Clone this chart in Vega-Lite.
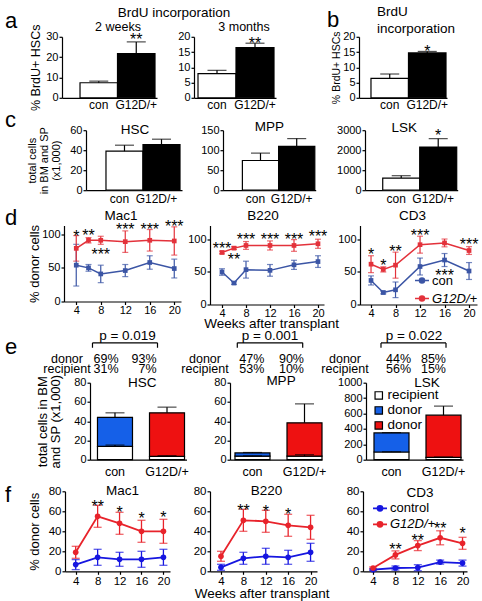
{
"$schema": "https://vega.github.io/schema/vega-lite/v6.json",
"background": "white",
"padding": {"left": 5, "top": 5, "right": 0, "bottom": 0},
"config": {
  "font": "Liberation Sans",
  "view": {"stroke": null},
  "axis": {"domainColor": "black", "domainWidth": 1.2, "tickColor": "black", "tickWidth": 1.2, "tickSize": 3, "labelColor": "black", "labelOpacity": 1, "labelFontSize": 11, "labelPadding": 1, "labelOverlap": false, "labelBound": false, "labelFlush": false, "labelSeparation": 0, "titleColor": "black", "titleFontWeight": "normal", "grid": false, "minExtent": 0},
  "legend": {"labelColor": "black", "padding": 0},
  "text": {"color": "black"}
},
"columns": 1, "spacing": 6.3,
"resolve": {"scale": {"color": "independent", "fill": "independent"}, "legend": {"color": "independent", "fill": "independent"}},
"concat": [
 {"columns": 1, "spacing": -2.3,
  "resolve": {"scale": {"color": "independent", "fill": "independent"}, "legend": {"color": "independent", "fill": "independent"}},
  "concat": [
  {"columns": 1, "spacing": 1.5,
   "resolve": {"scale": {"color": "independent", "fill": "independent"}, "legend": {"color": "independent", "fill": "independent"}},
   "concat": [
   {"columns": 1, "spacing": -2.8,
    "resolve": {"scale": {"color": "independent", "fill": "independent"}, "legend": {"color": "independent", "fill": "independent"}},
    "concat": [
    {"columns": 1, "spacing": -14.2,
     "resolve": {"scale": {"color": "independent", "fill": "independent"}, "legend": {"color": "independent", "fill": "independent"}},
     "concat": [
      {"width": 1, "height": 1,
       "data": {"values": [{"t": "BrdU incorporation"}]},
       "mark": {"type": "text", "fontSize": 13.5, "dx": 168.5},
       "encoding": {"text": {"field": "t"}}},
      {"spacing": 0,
       "resolve": {"scale": {"color": "independent", "fill": "independent"}, "legend": {"color": "independent", "fill": "independent"}},
       "hconcat": [
        {"width": 24, "height": 1,
         "data": {"values": [{"t": "a"}]},
         "mark": {"type": "text", "fontSize": 22, "align": "left", "baseline": "alphabetic", "dx": -12, "dy": -9.8},
         "encoding": {"text": {"field": "t"}}},
        {"width": 95, "height": 61,
         "data": {"values": [{"g": "con", "v": 7.4, "hi": 8.2}, {"g": "G12D/+", "v": 21.7, "hi": 27.5}]},
         "layer": [
          {"mark": {"type": "bar", "stroke": "black", "strokeWidth": 1.2},
           "encoding": {
            "x": {"field": "g", "type": "nominal", "sort": null, "scale": {"domain": ["con", "G12D/+"], "paddingInner": 0, "paddingOuter": 0.267, "align": 0.9}, "axis": {"title": null, "ticks": false, "labelAngle": 0, "labelFontSize": 12, "labelPadding": 1.3, "labelOverlap": false, "encode": {"labels": {"update": {"fontStyle": {"signal": "datum.value === 'G12D/+' ? 'italic' : 'normal'"}}}}}},
            "y": {"field": "v", "type": "quantitative", "scale": {"domain": [0, 30], "nice": false}, "axis": {"values": [0, 10, 20, 30], "tickCount": 20, "labelOverlap": false, "minExtent": 17, "title": "% BrdU+ HSCs", "titleFontSize": 12.5, "titlePadding": 3}},
            "fill": {"field": "g", "type": "nominal", "scale": {"domain": ["con", "G12D/+"], "range": ["white", "black"]}, "legend": null}}},
          {"mark": {"type": "rule", "color": "black", "strokeWidth": 1.2},
           "encoding": {"x": {"field": "g", "type": "nominal"}, "y": {"field": "v", "type": "quantitative"}, "y2": {"field": "hi"}}},
          {"mark": {"type": "tick", "color": "black", "thickness": 1.2, "size": 19},
           "encoding": {"x": {"field": "g", "type": "nominal"}, "y": {"field": "hi", "type": "quantitative"}}},
          {"data": {"values": [{"g": "G12D/+", "y": 30.5, "s": "**"}]},
           "mark": {"type": "text", "fontSize": 16, "dy": 4.5},
           "encoding": {"x": {"field": "g", "type": "nominal"}, "y": {"field": "y", "type": "quantitative"}, "text": {"field": "s"}}},
          {"data": {"values": [{"t": "2 weeks"}]},
           "mark": {"type": "text", "fontSize": 12.5, "dx": 8.5},
           "encoding": {"y": {"datum": 34.6}, "text": {"field": "t"}}}
         ]},
        {"width": 82, "height": 61,
         "data": {"values": [{"g": "con", "v": 7.9, "hi": 9.0}, {"g": "G12D/+", "v": 16.5, "hi": 17.9}]},
         "layer": [
          {"mark": {"type": "bar", "stroke": "black", "strokeWidth": 1.2},
           "encoding": {
            "x": {"field": "g", "type": "nominal", "sort": null, "scale": {"domain": ["con", "G12D/+"], "paddingInner": 0, "paddingOuter": 0.079, "align": 0.667}, "axis": {"title": null, "ticks": false, "labelAngle": 0, "labelFontSize": 12, "labelPadding": 1.3, "labelOverlap": false, "encode": {"labels": {"update": {"fontStyle": {"signal": "datum.value === 'G12D/+' ? 'italic' : 'normal'"}}}}}},
            "y": {"field": "v", "type": "quantitative", "scale": {"domain": [0, 20], "nice": false}, "axis": {"values": [0, 5, 10, 15, 20], "tickCount": 20, "labelOverlap": false, "title": null, "minExtent": 37}},
            "fill": {"field": "g", "type": "nominal", "scale": {"domain": ["con", "G12D/+"], "range": ["white", "black"]}, "legend": null}}},
          {"mark": {"type": "rule", "color": "black", "strokeWidth": 1.2},
           "encoding": {"x": {"field": "g", "type": "nominal"}, "y": {"field": "v", "type": "quantitative"}, "y2": {"field": "hi"}}},
          {"mark": {"type": "tick", "color": "black", "thickness": 1.2, "size": 19},
           "encoding": {"x": {"field": "g", "type": "nominal"}, "y": {"field": "hi", "type": "quantitative"}}},
          {"data": {"values": [{"g": "G12D/+", "y": 19.2, "s": "**"}]},
           "mark": {"type": "text", "fontSize": 16, "dy": 4.5},
           "encoding": {"x": {"field": "g", "type": "nominal"}, "y": {"field": "y", "type": "quantitative"}, "text": {"field": "s"}}},
          {"data": {"values": [{"t": "3 months"}]},
           "mark": {"type": "text", "fontSize": 12.5, "dx": 9},
           "encoding": {"y": {"datum": 23.06}, "text": {"field": "t"}}}
         ]},
        {"width": 51, "height": 1,
         "data": {"values": []},
         "mark": {"type": "point"},
         "encoding": {}},
        {"width": 88, "height": 61,
         "data": {"values": [{"g": "con", "v": 6.4, "hi": 7.8}, {"g": "G12D/+", "v": 14.7, "hi": 15.2}]},
         "layer": [
          {"mark": {"type": "bar", "stroke": "black", "strokeWidth": 1.2},
           "encoding": {
            "x": {"field": "g", "type": "nominal", "sort": null, "scale": {"domain": ["con", "G12D/+"], "paddingInner": 0, "paddingOuter": 0.173, "align": 0.923}, "axis": {"title": null, "ticks": false, "labelAngle": 0, "labelFontSize": 12, "labelPadding": 1.3, "labelOverlap": false, "encode": {"labels": {"update": {"fontStyle": {"signal": "datum.value === 'G12D/+' ? 'italic' : 'normal'"}}}}}},
            "y": {"field": "v", "type": "quantitative", "scale": {"domain": [0, 20], "nice": false}, "axis": {"values": [0, 5, 10, 15, 20], "tickCount": 20, "labelOverlap": false, "minExtent": 17, "title": "% BrdU+ HSCs", "titleFontSize": 10.5, "titlePadding": 1}},
            "fill": {"field": "g", "type": "nominal", "scale": {"domain": ["con", "G12D/+"], "range": ["white", "black"]}, "legend": null}}},
          {"mark": {"type": "rule", "color": "black", "strokeWidth": 1.2},
           "encoding": {"x": {"field": "g", "type": "nominal"}, "y": {"field": "v", "type": "quantitative"}, "y2": {"field": "hi"}}},
          {"mark": {"type": "tick", "color": "black", "thickness": 1.2, "size": 19},
           "encoding": {"x": {"field": "g", "type": "nominal"}, "y": {"field": "hi", "type": "quantitative"}}},
          {"data": {"values": [{"g": "G12D/+", "y": 16.5, "s": "*"}]},
           "mark": {"type": "text", "fontSize": 16, "dy": 4.5},
           "encoding": {"x": {"field": "g", "type": "nominal"}, "y": {"field": "y", "type": "quantitative"}, "text": {"field": "s"}}},
          {"data": {"values": [{"t": "BrdU", "y": 28.0}, {"t": "incorporation", "y": 22.4}]},
           "mark": {"type": "text", "fontSize": 13.5, "align": "left", "dx": -26},
           "encoding": {"y": {"field": "y", "type": "quantitative"}, "text": {"field": "t"}}},
          {"data": {"values": [{"t": "b"}]},
           "mark": {"type": "text", "fontSize": 22, "align": "left", "baseline": "alphabetic", "dx": -76},
           "encoding": {"y": {"datum": 23.06}, "text": {"field": "t"}}}
         ]}
       ]}
     ]},
     {"spacing": 0,
      "resolve": {"scale": {"color": "independent", "fill": "independent"}, "legend": {"color": "independent", "fill": "independent"}},
      "hconcat": [
       {"width": 21, "height": 1,
        "data": {"values": [{"t": "c"}]},
        "mark": {"type": "text", "fontSize": 22, "align": "left", "baseline": "alphabetic", "dx": -10.5, "dy": -4},
        "encoding": {"text": {"field": "t"}}},
       {"width": 96, "height": 60,
        "data": {"values": [{"g": "con", "v": 39, "hi": 45}, {"g": "G12D/+", "v": 45.7, "hi": 51}]},
        "layer": [
         {"mark": {"type": "bar", "stroke": "black", "strokeWidth": 1.2},
          "encoding": {
           "x": {"field": "g", "type": "nominal", "sort": null, "scale": {"domain": ["con", "G12D/+"], "paddingInner": 0, "paddingOuter": 0.297, "align": 0.909}, "axis": {"title": null, "ticks": false, "labelAngle": 0, "labelFontSize": 12, "labelPadding": 3, "labelOffset": -5, "labelOverlap": false, "encode": {"labels": {"update": {"fontStyle": {"signal": "datum.value === 'G12D/+' ? 'italic' : 'normal'"}}}}}},
           "y": {"field": "v", "type": "quantitative", "scale": {"domain": [0, 60], "nice": false}, "axis": {"values": [0, 20, 40, 60], "tickCount": 20, "labelOverlap": false, "minExtent": 17, "title": ["total cells", "in BM and SP", "(x1,000)"], "titleFontSize": 11, "titleLineHeight": 12, "titlePadding": 8}},
           "fill": {"field": "g", "type": "nominal", "scale": {"domain": ["con", "G12D/+"], "range": ["white", "black"]}, "legend": null}}},
         {"mark": {"type": "rule", "color": "black", "strokeWidth": 1.2},
          "encoding": {"x": {"field": "g", "type": "nominal"}, "y": {"field": "v", "type": "quantitative"}, "y2": {"field": "hi"}}},
         {"mark": {"type": "tick", "color": "black", "thickness": 1.2, "size": 19},
          "encoding": {"x": {"field": "g", "type": "nominal"}, "y": {"field": "hi", "type": "quantitative"}}},
         {"data": {"values": [{"t": "HSC"}]},
          "mark": {"type": "text", "fontSize": 13.5, "dx": 1},
          "encoding": {"y": {"datum": 60.5}, "text": {"field": "t"}}}
        ]},
       {"width": 92.7, "height": 60,
        "data": {"values": [{"g": "con", "v": 74.2, "hi": 92.7}, {"g": "G12D/+", "v": 109.6, "hi": 129}]},
        "layer": [
         {"mark": {"type": "bar", "stroke": "black", "strokeWidth": 1.2},
          "encoding": {
           "x": {"field": "g", "type": "nominal", "sort": null, "scale": {"domain": ["con", "G12D/+"], "paddingInner": 0, "paddingOuter": 0.28, "align": 0.956}, "axis": {"title": null, "ticks": false, "labelAngle": 0, "labelFontSize": 12, "labelPadding": 3, "labelOffset": -5, "labelOverlap": false, "encode": {"labels": {"update": {"fontStyle": {"signal": "datum.value === 'G12D/+' ? 'italic' : 'normal'"}}}}}},
           "y": {"field": "v", "type": "quantitative", "scale": {"domain": [0, 150], "nice": false}, "axis": {"values": [0, 50, 100, 150], "tickCount": 20, "labelOverlap": false, "title": null, "minExtent": 41}},
           "fill": {"field": "g", "type": "nominal", "scale": {"domain": ["con", "G12D/+"], "range": ["white", "black"]}, "legend": null}}},
         {"mark": {"type": "rule", "color": "black", "strokeWidth": 1.2},
          "encoding": {"x": {"field": "g", "type": "nominal"}, "y": {"field": "v", "type": "quantitative"}, "y2": {"field": "hi"}}},
         {"mark": {"type": "tick", "color": "black", "thickness": 1.2, "size": 19},
          "encoding": {"x": {"field": "g", "type": "nominal"}, "y": {"field": "hi", "type": "quantitative"}}},
         {"data": {"values": [{"t": "MPP"}]},
          "mark": {"type": "text", "fontSize": 13.5, "dx": 0},
          "encoding": {"y": {"datum": 158.8}, "text": {"field": "t"}}}
        ]},
       {"width": 92.7, "height": 60,
        "data": {"values": [{"g": "con", "v": 607, "hi": 725}, {"g": "G12D/+", "v": 2157, "hi": 2578}]},
        "layer": [
         {"mark": {"type": "bar", "stroke": "black", "strokeWidth": 1.2},
          "encoding": {
           "x": {"field": "g", "type": "nominal", "sort": null, "scale": {"domain": ["con", "G12D/+"], "paddingInner": 0, "paddingOuter": 0.253, "align": 0.947}, "axis": {"title": null, "ticks": false, "labelAngle": 0, "labelFontSize": 12, "labelPadding": 3, "labelOffset": -5, "labelOverlap": false, "encode": {"labels": {"update": {"fontStyle": {"signal": "datum.value === 'G12D/+' ? 'italic' : 'normal'"}}}}}},
           "y": {"field": "v", "type": "quantitative", "scale": {"domain": [0, 3000], "nice": false}, "axis": {"values": [0, 1000, 2000, 3000], "tickCount": 20, "format": "d", "labelOverlap": false, "title": null, "minExtent": 49}},
           "fill": {"field": "g", "type": "nominal", "scale": {"domain": ["con", "G12D/+"], "range": ["white", "black"]}, "legend": null}}},
         {"mark": {"type": "rule", "color": "black", "strokeWidth": 1.2},
          "encoding": {"x": {"field": "g", "type": "nominal"}, "y": {"field": "v", "type": "quantitative"}, "y2": {"field": "hi"}}},
         {"mark": {"type": "tick", "color": "black", "thickness": 1.2, "size": 19},
          "encoding": {"x": {"field": "g", "type": "nominal"}, "y": {"field": "hi", "type": "quantitative"}}},
         {"data": {"values": [{"g": "G12D/+", "y": 2924, "s": "*"}]},
          "mark": {"type": "text", "fontSize": 16, "dy": 4.5},
          "encoding": {"x": {"field": "g", "type": "nominal"}, "y": {"field": "y", "type": "quantitative"}, "text": {"field": "s"}}},
         {"data": {"values": [{"t": "LSK"}]},
          "mark": {"type": "text", "fontSize": 13.5, "dx": -7},
          "encoding": {"y": {"datum": 3091}, "text": {"field": "t"}}}
        ]}
      ]}
    ]},
   {"spacing": -2,
    "resolve": {"scale": {"color": "independent", "fill": "independent"}, "legend": {"color": "independent", "fill": "independent"}},
    "hconcat": [
     {"width": 25, "height": 1,
      "data": {"values": [{"t": "d"}]},
      "mark": {"type": "text", "fontSize": 22, "align": "left", "baseline": "alphabetic", "dx": -12.5, "dy": -1.5},
      "encoding": {"text": {"field": "t"}}},
     {"width": 117, "height": 76,
      "data": {"values": [
        {"w": 4, "grp": "con", "v": 54, "e": 31}, {"w": 6, "grp": "con", "v": 50, "e": 5}, {"w": 8, "grp": "con", "v": 41, "e": 13}, {"w": 12, "grp": "con", "v": 46, "e": 9}, {"w": 16, "grp": "con", "v": 58, "e": 10}, {"w": 20, "grp": "con", "v": 49, "e": 14},
        {"w": 4, "grp": "G12D/+", "v": 79, "e": 19}, {"w": 6, "grp": "G12D/+", "v": 91, "e": 4}, {"w": 8, "grp": "G12D/+", "v": 91, "e": 6}, {"w": 12, "grp": "G12D/+", "v": 89, "e": 16}, {"w": 16, "grp": "G12D/+", "v": 91, "e": 16}, {"w": 20, "grp": "G12D/+", "v": 90, "e": 21}]},
      "layer": [
       {"mark": {"type": "line", "strokeWidth": 1.5},
        "encoding": {
         "x": {"field": "w", "type": "quantitative", "scale": {"domain": [2, 21.1], "nice": false, "zero": false}, "axis": {"values": [4, 8, 12, 16, 20], "tickCount": 20, "labelOverlap": false, "title": null, "labelPadding": 0, "labelFlush": false}},
         "y": {"field": "v", "type": "quantitative", "scale": {"domain": [0, 113], "nice": false}, "axis": {"values": [0, 50, 100], "tickCount": 20, "labelOverlap": false, "minExtent": 23, "title": "% donor cells", "titleFontSize": 13, "titlePadding": 0}},
         "color": {"field": "grp", "type": "nominal", "scale": {"domain": ["con", "G12D/+"], "range": ["#3b55a5", "#e3323b"]}, "legend": null}}},
       {"mark": {"type": "errorbar", "ticks": {"size": 6, "thickness": 1.2}, "rule": {"strokeWidth": 1.2}},
        "encoding": {"x": {"field": "w", "type": "quantitative", "title": null}, "y": {"field": "v", "type": "quantitative", "title": "% donor cells"}, "yError": {"field": "e"}, "color": {"field": "grp", "type": "nominal", "legend": null}}},
       {"mark": {"type": "point", "filled": true, "opacity": 1, "shape": "square", "size": 22},
        "encoding": {"x": {"field": "w", "type": "quantitative"}, "y": {"field": "v", "type": "quantitative"}, "color": {"field": "grp", "type": "nominal", "legend": null}}},
       {"data": {"values": [{"w": 4, "s": "*", "y": 103}, {"w": 6, "s": "**", "y": 104.5}, {"w": 8, "s": "***", "y": 76.2}, {"w": 12, "s": "***", "y": 113.4}, {"w": 16, "s": "***", "y": 113.4}, {"w": 20, "s": "***", "y": 117.9}]},
        "mark": {"type": "text", "fontSize": 16, "dy": 4.5},
        "encoding": {"x": {"field": "w", "type": "quantitative"}, "y": {"field": "y", "type": "quantitative"}, "text": {"field": "s"}}},
       {"data": {"values": [{"t": "Mac1"}]},
        "mark": {"type": "text", "fontSize": 13.5, "dx": -1.5},
        "encoding": {"y": {"datum": 126.7}, "text": {"field": "t"}}}
      ]},
     {"width": 114, "height": 79,
      "data": {"values": [
        {"w": 4, "grp": "con", "v": 50, "e": 5}, {"w": 6, "grp": "con", "v": 33, "e": 2}, {"w": 8, "grp": "con", "v": 53.6, "e": 13}, {"w": 12, "grp": "con", "v": 52.5, "e": 9}, {"w": 16, "grp": "con", "v": 61, "e": 7}, {"w": 20, "grp": "con", "v": 66, "e": 9},
        {"w": 4, "grp": "G12D/+", "v": 80, "e": 2}, {"w": 6, "grp": "G12D/+", "v": 86.7, "e": 2}, {"w": 8, "grp": "G12D/+", "v": 90.8, "e": 6}, {"w": 12, "grp": "G12D/+", "v": 90.8, "e": 7}, {"w": 16, "grp": "G12D/+", "v": 90.8, "e": 9}, {"w": 20, "grp": "G12D/+", "v": 93.4, "e": 7}]},
      "layer": [
       {"mark": {"type": "line", "strokeWidth": 1.5},
        "encoding": {
         "x": {"field": "w", "type": "quantitative", "scale": {"domain": [2, 21], "nice": false, "zero": false}, "axis": {"values": [4, 8, 12, 16, 20], "tickCount": 20, "labelOverlap": false, "title": "Weeks after transplant", "titleFontSize": 13.5, "titleX": 61.2, "titlePadding": -1.8, "labelPadding": 0, "labelFlush": false}},
         "y": {"field": "v", "type": "quantitative", "scale": {"domain": [0, 121.5], "nice": false}, "axis": {"values": [0, 50, 100], "tickCount": 20, "labelOverlap": false, "title": null, "minExtent": 27.5}},
         "color": {"field": "grp", "type": "nominal", "scale": {"domain": ["con", "G12D/+"], "range": ["#3b55a5", "#e3323b"]}, "legend": null}}},
       {"mark": {"type": "errorbar", "ticks": {"size": 6, "thickness": 1.2}, "rule": {"strokeWidth": 1.2}},
        "encoding": {"x": {"field": "w", "type": "quantitative", "title": "Weeks after transplant"}, "y": {"field": "v", "type": "quantitative", "title": null}, "yError": {"field": "e"}, "color": {"field": "grp", "type": "nominal", "legend": null}}},
       {"mark": {"type": "point", "filled": true, "opacity": 1, "shape": "square", "size": 22},
        "encoding": {"x": {"field": "w", "type": "quantitative"}, "y": {"field": "v", "type": "quantitative"}, "color": {"field": "grp", "type": "nominal", "legend": null}}},
       {"data": {"values": [{"w": 4, "s": "***", "y": 92.3}, {"w": 6, "s": "**", "y": 75.4}, {"w": 8, "s": "***", "y": 106.2}, {"w": 12, "s": "***", "y": 106.2}, {"w": 16, "s": "***", "y": 106.2}, {"w": 20, "s": "***", "y": 110.3}]},
        "mark": {"type": "text", "fontSize": 16, "dy": 4.5},
        "encoding": {"x": {"field": "w", "type": "quantitative"}, "y": {"field": "y", "type": "quantitative"}, "text": {"field": "s"}}},
       {"data": {"values": [{"t": "B220"}]},
        "mark": {"type": "text", "fontSize": 13.5, "dx": -4},
        "encoding": {"y": {"datum": 135.4}, "text": {"field": "t"}}}
      ]},
     {"width": 117, "height": 79,
      "data": {"values": [
        {"w": 4, "grp": "con", "v": 37, "e": 7}, {"w": 6, "grp": "con", "v": 18.4, "e": 2}, {"w": 8, "grp": "con", "v": 22.6, "e": 12}, {"w": 12, "grp": "con", "v": 58.4, "e": 13}, {"w": 16, "grp": "con", "v": 68.4, "e": 10}, {"w": 20, "grp": "con", "v": 51.5, "e": 13},
        {"w": 4, "grp": "G12D/+", "v": 62, "e": 13}, {"w": 6, "grp": "G12D/+", "v": 54, "e": 4}, {"w": 8, "grp": "G12D/+", "v": 60.5, "e": 20}, {"w": 12, "grp": "G12D/+", "v": 92, "e": 13}, {"w": 16, "grp": "G12D/+", "v": 94.7, "e": 6}, {"w": 20, "grp": "G12D/+", "v": 83, "e": 6}]},
      "layer": [
       {"mark": {"type": "line", "strokeWidth": 1.5},
        "encoding": {
         "x": {"field": "w", "type": "quantitative", "scale": {"domain": [2.2, 21.3], "nice": false, "zero": false}, "axis": {"values": [4, 8, 12, 16, 20], "tickCount": 20, "labelOverlap": false, "title": null, "labelPadding": 0, "labelFlush": false}},
         "y": {"field": "v", "type": "quantitative", "scale": {"domain": [0, 121.5], "nice": false}, "axis": {"values": [0, 50, 100], "tickCount": 20, "labelOverlap": false, "title": null, "minExtent": 23}},
         "color": {"field": "grp", "type": "nominal", "scale": {"domain": ["con", "G12D/+"], "range": ["#3b55a5", "#e3323b"]},
           "legend": {"orient": "bottom-right", "offset": -1, "title": null, "padding": 0, "labelFontSize": 13, "labelOffset": 2, "rowPadding": 3, "symbolType": "M-1,0L1,0M-0.36,0A0.36,0.36,0,1,1,0.36,0A0.36,0.36,0,1,1,-0.36,0Z", "symbolSize": 196, "symbolStrokeWidth": 1.5,
             "encode": {"symbols": {"update": {"fill": {"signal": "datum.value === 'con' ? '#3b55a5' : '#e3323b'"}}}, "labels": {"update": {"fontStyle": {"signal": "datum.value === 'G12D/+' ? 'italic' : 'normal'"}}}}}}}},
       {"mark": {"type": "errorbar", "ticks": {"size": 6, "thickness": 1.2}, "rule": {"strokeWidth": 1.2}},
        "encoding": {"x": {"field": "w", "type": "quantitative", "title": null}, "y": {"field": "v", "type": "quantitative", "title": null}, "yError": {"field": "e"}, "color": {"field": "grp", "type": "nominal", "legend": null}}},
       {"mark": {"type": "point", "filled": true, "opacity": 1, "shape": "square", "size": 22},
        "encoding": {"x": {"field": "w", "type": "quantitative"}, "y": {"field": "v", "type": "quantitative"}, "color": {"field": "grp", "type": "nominal", "legend": null}}},
       {"data": {"values": [{"w": 4, "s": "*", "y": 83.5}, {"w": 6, "s": "*", "y": 66.6}, {"w": 8, "s": "**", "y": 87.2}, {"w": 12, "s": "***", "y": 112.8}, {"w": 16, "s": "***", "y": 50}, {"w": 20, "s": "***", "y": 98.9}]},
        "mark": {"type": "text", "fontSize": 16, "dy": 4.5},
        "encoding": {"x": {"field": "w", "type": "quantitative"}, "y": {"field": "y", "type": "quantitative"}, "text": {"field": "s"}}},
       {"data": {"values": [{"t": "CD3"}]},
        "mark": {"type": "text", "fontSize": 13.5, "dx": -6},
        "encoding": {"y": {"datum": 135.4}, "text": {"field": "t"}}}
      ]}
    ]}
   ]},
  {"spacing": -9,
   "resolve": {"scale": {"color": "independent", "fill": "independent"}, "legend": {"color": "independent", "fill": "independent"}},
   "hconcat": [
    {"width": 40, "height": 1,
     "data": {"values": [{"t": "e"}]},
     "mark": {"type": "text", "fontSize": 22, "align": "left", "baseline": "alphabetic", "dx": -20, "dy": -29.2},
     "encoding": {"text": {"field": "t"}}},
    {"width": 96.5, "height": 77,
     "layer": [
      {"data": {"values": [{"g": "con", "part": "recipient", "v": 13.9}, {"g": "con", "part": "donor (con)", "v": 30.1}, {"g": "G12D/+", "part": "recipient", "v": 3.5}, {"g": "G12D/+", "part": "donor (G12D/+)", "v": 45.2}]},
       "mark": {"type": "bar", "stroke": "black", "strokeWidth": 1.2},
       "encoding": {
        "x": {"field": "g", "type": "nominal", "sort": null, "scale": {"domain": ["con", "G12D/+"], "paddingInner": 0.327, "paddingOuter": 0.091, "align": 0.79}, "axis": {"title": null, "ticks": false, "labelAngle": 0, "labelFontSize": 12.5, "labelPadding": 5.6, "labelOverlap": false, "encode": {"labels": {"update": {"fontStyle": {"signal": "datum.value === 'G12D/+' ? 'italic' : 'normal'"}}}}}},
        "y": {"field": "v", "type": "quantitative", "stack": "zero", "scale": {"domain": [0, 80], "nice": false}, "axis": {"values": [0, 20, 40, 60, 80], "tickCount": 20, "labelOverlap": false, "minExtent": 17, "title": ["total cells in BM", "and SP (x1,000)"], "titleFontSize": 13, "titleLineHeight": 13, "titlePadding": 11}},
        "fill": {"field": "part", "type": "nominal", "scale": {"domain": ["recipient", "donor (con)", "donor (G12D/+)"], "range": ["white", "#1560e8", "#ee1111"]}, "legend": null},
        "order": {"field": "part", "type": "nominal", "sort": "descending"}}},
      {"data": {"values": [{"g": "con", "lo": 44, "hi": 48.7}, {"g": "G12D/+", "lo": 48.7, "hi": 54.6}, {"g": "con", "lo": 13.9, "hi": 15.2}, {"g": "G12D/+", "lo": 3.5, "hi": 4.2}]},
       "layer": [
        {"mark": {"type": "rule", "color": "black", "strokeWidth": 1.2}, "encoding": {"x": {"field": "g", "type": "nominal"}, "y": {"field": "lo", "type": "quantitative"}, "y2": {"field": "hi"}}},
        {"mark": {"type": "tick", "color": "black", "thickness": 1.2, "size": 19}, "encoding": {"x": {"field": "g", "type": "nominal"}, "y": {"field": "hi", "type": "quantitative"}}}
       ]},
      {"data": {"values": [{"t": "HSC"}]}, "mark": {"type": "text", "fontSize": 13.5, "dx": 4}, "encoding": {"y": {"datum": 80}, "text": {"field": "t"}}},
      {"data": {"values": [{"g": "con", "t": "p = 0.019"}]}, "mark": {"type": "text", "fontSize": 13.5, "dx": 12.5}, "encoding": {"x": {"field": "g", "type": "nominal"}, "y": {"datum": 128.4}, "text": {"field": "t"}}},
      {"data": {"values": [{"a": "con", "b": "G12D/+"}]}, "mark": {"type": "rule", "color": "black", "strokeWidth": 1.2, "xOffset": -22.5, "x2Offset": -9.5}, "encoding": {"x": {"field": "a", "type": "nominal"}, "x2": {"field": "b"}, "y": {"datum": 121.4}}},
      {"data": {"values": [{"a": "con"}]}, "mark": {"type": "rule", "color": "black", "strokeWidth": 1.2, "xOffset": -22.5}, "encoding": {"x": {"field": "a", "type": "nominal"}, "y": {"datum": 121.4}, "y2": {"datum": 116.3}}},
      {"data": {"values": [{"a": "G12D/+"}]}, "mark": {"type": "rule", "color": "black", "strokeWidth": 1.2, "xOffset": -9.5}, "encoding": {"x": {"field": "a", "type": "nominal"}, "y": {"datum": 121.4}, "y2": {"datum": 116.3}}},
      {"data": {"values": [{"g": "con", "t": "donor", "y": 104.2}, {"g": "con", "t": "recipient", "y": 93.9}]}, "mark": {"type": "text", "fontSize": 12.5, "dx": -48}, "encoding": {"x": {"field": "g", "type": "nominal"}, "y": {"field": "y", "type": "quantitative"}, "text": {"field": "t"}}},
      {"data": {"values": [{"g": "con", "t": "69%", "y": 104.2}, {"g": "con", "t": "31%", "y": 93.9}]}, "mark": {"type": "text", "fontSize": 12.5, "align": "left", "dx": -21.5}, "encoding": {"x": {"field": "g", "type": "nominal"}, "y": {"field": "y", "type": "quantitative"}, "text": {"field": "t"}}},
      {"data": {"values": [{"g": "G12D/+", "t": "93%", "y": 104.2}, {"g": "G12D/+", "t": "7%", "y": 93.9}]}, "mark": {"type": "text", "fontSize": 12.5, "align": "right", "dx": -10.5}, "encoding": {"x": {"field": "g", "type": "nominal"}, "y": {"field": "y", "type": "quantitative"}, "text": {"field": "t"}}}
     ]},
    {"width": 92, "height": 77,
     "layer": [
      {"data": {"values": [{"g": "con", "part": "recipient", "v": 3.7}, {"g": "con", "part": "donor (con)", "v": 3.3}, {"g": "G12D/+", "part": "recipient", "v": 3.8}, {"g": "G12D/+", "part": "donor (G12D/+)", "v": 34.5}]},
       "mark": {"type": "bar", "stroke": "black", "strokeWidth": 1.2},
       "encoding": {
        "x": {"field": "g", "type": "nominal", "sort": null, "scale": {"domain": ["con", "G12D/+"], "paddingInner": 0.327, "paddingOuter": 0.048, "align": 1}, "axis": {"title": null, "ticks": false, "labelAngle": 0, "labelFontSize": 12.5, "labelPadding": 5.6, "labelOverlap": false, "encode": {"labels": {"update": {"fontStyle": {"signal": "datum.value === 'G12D/+' ? 'italic' : 'normal'"}}}}}},
        "y": {"field": "v", "type": "quantitative", "stack": "zero", "scale": {"domain": [0, 80], "nice": false}, "axis": {"values": [0, 20, 40, 60, 80], "tickCount": 20, "labelOverlap": false, "title": null, "minExtent": 50}},
        "fill": {"field": "part", "type": "nominal", "scale": {"domain": ["recipient", "donor (con)", "donor (G12D/+)"], "range": ["white", "#1560e8", "#ee1111"]}, "legend": null},
        "order": {"field": "part", "type": "nominal", "sort": "descending"}}},
      {"data": {"values": [{"g": "con", "lo": 7, "hi": 7.5}, {"g": "G12D/+", "lo": 38.3, "hi": 58}, {"g": "con", "lo": 3.7, "hi": 4.0}, {"g": "G12D/+", "lo": 3.8, "hi": 5.2}]},
       "layer": [
        {"mark": {"type": "rule", "color": "black", "strokeWidth": 1.2}, "encoding": {"x": {"field": "g", "type": "nominal"}, "y": {"field": "lo", "type": "quantitative"}, "y2": {"field": "hi"}}},
        {"mark": {"type": "tick", "color": "black", "thickness": 1.2, "size": 19}, "encoding": {"x": {"field": "g", "type": "nominal"}, "y": {"field": "hi", "type": "quantitative"}}}
       ]},
      {"data": {"values": [{"t": "MPP"}]}, "mark": {"type": "text", "fontSize": 13.5, "dx": 5}, "encoding": {"y": {"datum": 81.5}, "text": {"field": "t"}}},
      {"data": {"values": [{"g": "con", "t": "p = 0.001"}]}, "mark": {"type": "text", "fontSize": 13.5, "dx": 17.5}, "encoding": {"x": {"field": "g", "type": "nominal"}, "y": {"datum": 128.4}, "text": {"field": "t"}}},
      {"data": {"values": [{"a": "con", "b": "G12D/+"}]}, "mark": {"type": "rule", "color": "black", "strokeWidth": 1.2, "xOffset": -15.2, "x2Offset": -1.8}, "encoding": {"x": {"field": "a", "type": "nominal"}, "x2": {"field": "b"}, "y": {"datum": 121.4}}},
      {"data": {"values": [{"a": "con"}]}, "mark": {"type": "rule", "color": "black", "strokeWidth": 1.2, "xOffset": -15.2}, "encoding": {"x": {"field": "a", "type": "nominal"}, "y": {"datum": 121.4}, "y2": {"datum": 116.3}}},
      {"data": {"values": [{"a": "G12D/+"}]}, "mark": {"type": "rule", "color": "black", "strokeWidth": 1.2, "xOffset": -1.8}, "encoding": {"x": {"field": "a", "type": "nominal"}, "y": {"datum": 121.4}, "y2": {"datum": 116.3}}},
      {"data": {"values": [{"g": "con", "t": "donor", "y": 104.2}, {"g": "con", "t": "recipient", "y": 93.9}]}, "mark": {"type": "text", "fontSize": 12.5, "dx": -47.5}, "encoding": {"x": {"field": "g", "type": "nominal"}, "y": {"field": "y", "type": "quantitative"}, "text": {"field": "t"}}},
      {"data": {"values": [{"g": "con", "t": "47%", "y": 104.2}, {"g": "con", "t": "53%", "y": 93.9}]}, "mark": {"type": "text", "fontSize": 12.5, "align": "left", "dx": -13.2}, "encoding": {"x": {"field": "g", "type": "nominal"}, "y": {"field": "y", "type": "quantitative"}, "text": {"field": "t"}}},
      {"data": {"values": [{"g": "G12D/+", "t": "90%", "y": 104.2}, {"g": "G12D/+", "t": "10%", "y": 93.9}]}, "mark": {"type": "text", "fontSize": 12.5, "align": "right", "dx": -0.5}, "encoding": {"x": {"field": "g", "type": "nominal"}, "y": {"field": "y", "type": "quantitative"}, "text": {"field": "t"}}}
     ]},
    {"width": 97, "height": 77,
     "layer": [
      {"data": {"values": [{"g": "con", "part": "recipient", "v": 100}, {"g": "con", "part": "donor (con)", "v": 248}, {"g": "G12D/+", "part": "recipient", "v": 30}, {"g": "G12D/+", "part": "donor (G12D/+)", "v": 548}]},
       "mark": {"type": "bar", "stroke": "black", "strokeWidth": 1.2},
       "encoding": {
        "x": {"field": "g", "type": "nominal", "sort": null, "scale": {"domain": ["con", "G12D/+"], "paddingInner": 0.327, "paddingOuter": 0.096, "align": 0.8}, "axis": {"title": null, "ticks": false, "labelAngle": 0, "labelFontSize": 12.5, "labelPadding": 5.6, "labelOverlap": false, "encode": {"labels": {"update": {"fontStyle": {"signal": "datum.value === 'G12D/+' ? 'italic' : 'normal'"}}}}}},
        "y": {"field": "v", "type": "quantitative", "stack": "zero", "scale": {"domain": [0, 1000], "nice": false}, "axis": {"values": [0, 200, 400, 600, 800, 1000], "tickCount": 20, "format": "d", "labelOverlap": false, "title": null, "minExtent": 49}},
        "fill": {"field": "part", "type": "nominal", "scale": {"domain": ["recipient", "donor (con)", "donor (G12D/+)"], "range": ["white", "#1560e8", "#ee1111"]},
          "legend": {"orient": "top-left", "offset": 6, "title": null, "padding": 0, "labelFontSize": 13.5, "labelOffset": 2, "rowPadding": 0, "symbolType": "square", "symbolSize": 55, "symbolStrokeColor": "black", "symbolStrokeWidth": 1.2, "labelExpr": "split(datum.label, ' ')[0]"}},
        "order": {"field": "part", "type": "nominal", "sort": "descending"}}},
      {"data": {"values": [{"g": "con", "lo": 348, "hi": 352}, {"g": "G12D/+", "lo": 578, "hi": 696}, {"g": "con", "lo": 100, "hi": 103}, {"g": "G12D/+", "lo": 30, "hi": 35}]},
       "layer": [
        {"mark": {"type": "rule", "color": "black", "strokeWidth": 1.2}, "encoding": {"x": {"field": "g", "type": "nominal"}, "y": {"field": "lo", "type": "quantitative"}, "y2": {"field": "hi"}}},
        {"mark": {"type": "tick", "color": "black", "thickness": 1.2, "size": 19}, "encoding": {"x": {"field": "g", "type": "nominal"}, "y": {"field": "hi", "type": "quantitative"}}}
       ]},
      {"data": {"values": [{"t": "LSK"}]}, "mark": {"type": "text", "fontSize": 13.5, "dx": 12.5}, "encoding": {"y": {"datum": 1000}, "text": {"field": "t"}}},
      {"data": {"values": [{"g": "con", "t": "p = 0.022"}]}, "mark": {"type": "text", "fontSize": 13.5, "dx": 22.5}, "encoding": {"x": {"field": "g", "type": "nominal"}, "y": {"datum": 1605}, "text": {"field": "t"}}},
      {"data": {"values": [{"a": "con", "b": "G12D/+"}]}, "mark": {"type": "rule", "color": "black", "strokeWidth": 1.2, "xOffset": -10.5, "x2Offset": 2.5}, "encoding": {"x": {"field": "a", "type": "nominal"}, "x2": {"field": "b"}, "y": {"datum": 1517}}},
      {"data": {"values": [{"a": "con"}]}, "mark": {"type": "rule", "color": "black", "strokeWidth": 1.2, "xOffset": -10.5}, "encoding": {"x": {"field": "a", "type": "nominal"}, "y": {"datum": 1517}, "y2": {"datum": 1453}}},
      {"data": {"values": [{"a": "G12D/+"}]}, "mark": {"type": "rule", "color": "black", "strokeWidth": 1.2, "xOffset": 2.5}, "encoding": {"x": {"field": "a", "type": "nominal"}, "y": {"datum": 1517}, "y2": {"datum": 1453}}},
      {"data": {"values": [{"g": "con", "t": "donor", "y": 1302}, {"g": "con", "t": "recipient", "y": 1174}]}, "mark": {"type": "text", "fontSize": 12.5, "dx": -46.5}, "encoding": {"x": {"field": "g", "type": "nominal"}, "y": {"field": "y", "type": "quantitative"}, "text": {"field": "t"}}},
      {"data": {"values": [{"g": "con", "t": "44%", "y": 1302}, {"g": "con", "t": "56%", "y": 1174}]}, "mark": {"type": "text", "fontSize": 12.5, "align": "left", "dx": -5.5}, "encoding": {"x": {"field": "g", "type": "nominal"}, "y": {"field": "y", "type": "quantitative"}, "text": {"field": "t"}}},
      {"data": {"values": [{"g": "G12D/+", "t": "85%", "y": 1302}, {"g": "G12D/+", "t": "15%", "y": 1174}]}, "mark": {"type": "text", "fontSize": 12.5, "align": "right", "dx": 2.5}, "encoding": {"x": {"field": "g", "type": "nominal"}, "y": {"field": "y", "type": "quantitative"}, "text": {"field": "t"}}}
     ]}
   ]}
  ]},
 {"spacing": 0,
  "resolve": {"scale": {"color": "independent", "fill": "independent"}, "legend": {"color": "independent", "fill": "independent"}},
  "hconcat": [
   {"width": 23, "height": 1,
    "data": {"values": [{"t": "f"}]},
    "mark": {"type": "text", "fontSize": 22, "align": "left", "baseline": "alphabetic", "dx": -11.5, "dy": 10.5},
    "encoding": {"text": {"field": "t"}}},
   {"width": 105, "height": 80,
    "data": {"values": [
      {"w": 4, "grp": "control", "v": 6.7, "e": 5}, {"w": 8, "grp": "control", "v": 14, "e": 8}, {"w": 12, "grp": "control", "v": 12, "e": 7}, {"w": 16, "grp": "control", "v": 12, "e": 8}, {"w": 20, "grp": "control", "v": 14, "e": 8},
      {"w": 4, "grp": "G12D/+", "v": 19, "e": 6}, {"w": 8, "grp": "G12D/+", "v": 55, "e": 11}, {"w": 12, "grp": "G12D/+", "v": 48, "e": 11}, {"w": 16, "grp": "G12D/+", "v": 40, "e": 11}, {"w": 20, "grp": "G12D/+", "v": 40, "e": 12}]},
    "layer": [
     {"mark": {"type": "line", "strokeWidth": 1.8},
      "encoding": {
       "x": {"field": "w", "type": "quantitative", "scale": {"domain": [2.05, 21.2], "nice": false, "zero": false}, "axis": {"values": [4, 8, 12, 16, 20], "tickCount": 20, "labelOverlap": false, "title": null, "labelPadding": 1.3, "labelFlush": false, "labelFontSize": 11.5}},
       "y": {"field": "v", "type": "quantitative", "scale": {"domain": [0, 80], "nice": false}, "axis": {"values": [0, 20, 40, 60, 80], "tickCount": 20, "labelOverlap": false, "minExtent": 17.5, "title": "% donor cells", "titleFontSize": 13, "titlePadding": 6, "labelFontSize": 11.5}},
       "color": {"field": "grp", "type": "nominal", "scale": {"domain": ["control", "G12D/+"], "range": ["#1616e0", "#e8232b"]}, "legend": null}}},
     {"mark": {"type": "errorbar", "ticks": {"size": 8, "thickness": 1.3}, "rule": {"strokeWidth": 1.3}},
      "encoding": {"x": {"field": "w", "type": "quantitative", "title": null}, "y": {"field": "v", "type": "quantitative", "title": "% donor cells"}, "yError": {"field": "e"}, "color": {"field": "grp", "type": "nominal", "legend": null}}},
     {"mark": {"type": "point", "filled": true, "opacity": 1, "shape": "circle", "size": 32},
      "encoding": {"x": {"field": "w", "type": "quantitative"}, "y": {"field": "v", "type": "quantitative"}, "color": {"field": "grp", "type": "nominal", "legend": null}}},
     {"data": {"values": [{"w": 8, "s": "**", "y": 69}, {"w": 12, "s": "*", "y": 63}, {"w": 16, "s": "*", "y": 57}, {"w": 20, "s": "*", "y": 58}]},
      "mark": {"type": "text", "fontSize": 16, "dy": 4.5},
      "encoding": {"x": {"field": "w", "type": "quantitative"}, "y": {"field": "y", "type": "quantitative"}, "text": {"field": "s"}}},
     {"data": {"values": [{"t": "Mac1"}]},
      "mark": {"type": "text", "fontSize": 13.5, "dx": 5},
      "encoding": {"y": {"datum": 80}, "text": {"field": "t"}}}
    ]},
   {"width": 107, "height": 80,
    "data": {"values": [
      {"w": 4, "grp": "control", "v": 4, "e": 3}, {"w": 8, "grp": "control", "v": 13, "e": 6}, {"w": 12, "grp": "control", "v": 15, "e": 8}, {"w": 16, "grp": "control", "v": 14, "e": 7}, {"w": 20, "grp": "control", "v": 19, "e": 9},
      {"w": 4, "grp": "G12D/+", "v": 15, "e": 5}, {"w": 8, "grp": "G12D/+", "v": 51, "e": 11}, {"w": 12, "grp": "G12D/+", "v": 50, "e": 11}, {"w": 16, "grp": "G12D/+", "v": 46, "e": 11}, {"w": 20, "grp": "G12D/+", "v": 44, "e": 12}]},
    "layer": [
     {"mark": {"type": "line", "strokeWidth": 1.8},
      "encoding": {
       "x": {"field": "w", "type": "quantitative", "scale": {"domain": [2.04, 21.15], "nice": false, "zero": false}, "axis": {"values": [4, 8, 12, 16, 20], "tickCount": 20, "labelOverlap": false, "title": "Weeks after transplant", "titleFontSize": 13.5, "titleX": 51.7, "titlePadding": -0.4, "labelPadding": 1.3, "labelFlush": false, "labelFontSize": 11.5}},
       "y": {"field": "v", "type": "quantitative", "scale": {"domain": [0, 80], "nice": false}, "axis": {"values": [0, 20, 40, 60, 80], "tickCount": 20, "labelOverlap": false, "title": null, "minExtent": 40, "labelFontSize": 11.5}},
       "color": {"field": "grp", "type": "nominal", "scale": {"domain": ["control", "G12D/+"], "range": ["#1616e0", "#e8232b"]}, "legend": null}}},
     {"mark": {"type": "errorbar", "ticks": {"size": 8, "thickness": 1.3}, "rule": {"strokeWidth": 1.3}},
      "encoding": {"x": {"field": "w", "type": "quantitative", "title": "Weeks after transplant"}, "y": {"field": "v", "type": "quantitative", "title": null}, "yError": {"field": "e"}, "color": {"field": "grp", "type": "nominal", "legend": null}}},
     {"mark": {"type": "point", "filled": true, "opacity": 1, "shape": "circle", "size": 32},
      "encoding": {"x": {"field": "w", "type": "quantitative"}, "y": {"field": "v", "type": "quantitative"}, "color": {"field": "grp", "type": "nominal", "legend": null}}},
     {"data": {"values": [{"w": 8, "s": "**", "y": 65}, {"w": 12, "s": "*", "y": 64}, {"w": 16, "s": "*", "y": 61}]},
      "mark": {"type": "text", "fontSize": 16, "dy": 4.5},
      "encoding": {"x": {"field": "w", "type": "quantitative"}, "y": {"field": "y", "type": "quantitative"}, "text": {"field": "s"}}},
     {"data": {"values": [{"t": "B220"}]},
      "mark": {"type": "text", "fontSize": 13.5, "dx": 3},
      "encoding": {"y": {"datum": 80}, "text": {"field": "t"}}}
    ]},
   {"width": 104, "height": 80,
    "data": {"values": [
      {"w": 4, "grp": "control", "v": 1.6, "e": 0.8}, {"w": 8, "grp": "control", "v": 3.3, "e": 2}, {"w": 12, "grp": "control", "v": 3.6, "e": 3}, {"w": 16, "grp": "control", "v": 9.2, "e": 2}, {"w": 20, "grp": "control", "v": 8.2, "e": 3},
      {"w": 4, "grp": "G12D/+", "v": 3.3, "e": 1}, {"w": 8, "grp": "G12D/+", "v": 16.4, "e": 4}, {"w": 12, "grp": "G12D/+", "v": 25.7, "e": 5}, {"w": 16, "grp": "G12D/+", "v": 33.5, "e": 7}, {"w": 20, "grp": "G12D/+", "v": 28, "e": 6}]},
    "layer": [
     {"mark": {"type": "line", "strokeWidth": 1.8},
      "encoding": {
       "x": {"field": "w", "type": "quantitative", "scale": {"domain": [2.2, 20.8], "nice": false, "zero": false}, "axis": {"values": [4, 8, 12, 16, 20], "tickCount": 20, "labelOverlap": false, "title": null, "labelPadding": 1.3, "labelFlush": false, "labelFontSize": 11.5}},
       "y": {"field": "v", "type": "quantitative", "scale": {"domain": [0, 80], "nice": false}, "axis": {"values": [0, 20, 40, 60, 80], "tickCount": 20, "labelOverlap": false, "title": null, "minExtent": 33, "labelFontSize": 11.5}},
       "color": {"field": "grp", "type": "nominal", "scale": {"domain": ["control", "G12D/+"], "range": ["#1616e0", "#e8232b"]},
         "legend": {"orient": "top-left", "offset": 9, "title": null, "padding": 0, "labelFontSize": 13, "labelOffset": 2, "rowPadding": 1, "symbolType": "M-1,0L1,0M-0.36,0A0.36,0.36,0,1,1,0.36,0A0.36,0.36,0,1,1,-0.36,0Z", "symbolSize": 196, "symbolStrokeWidth": 1.8,
           "encode": {"symbols": {"update": {"fill": {"signal": "datum.value === 'control' ? '#1616e0' : '#e8232b'"}}}, "labels": {"update": {"fontStyle": {"signal": "datum.value === 'G12D/+' ? 'italic' : 'normal'"}}}}}}}},
     {"mark": {"type": "errorbar", "ticks": {"size": 8, "thickness": 1.3}, "rule": {"strokeWidth": 1.3}},
      "encoding": {"x": {"field": "w", "type": "quantitative", "title": null}, "y": {"field": "v", "type": "quantitative", "title": null}, "yError": {"field": "e"}, "color": {"field": "grp", "type": "nominal", "legend": null}}},
     {"mark": {"type": "point", "filled": true, "opacity": 1, "shape": "circle", "size": 32},
      "encoding": {"x": {"field": "w", "type": "quantitative"}, "y": {"field": "v", "type": "quantitative"}, "color": {"field": "grp", "type": "nominal", "legend": null}}},
     {"data": {"values": [{"w": 8, "s": "**", "y": 26}, {"w": 12, "s": "**", "y": 34.5}, {"w": 16, "s": "**", "y": 47}, {"w": 20, "s": "*", "y": 42}]},
      "mark": {"type": "text", "fontSize": 16, "dy": 4.5},
      "encoding": {"x": {"field": "w", "type": "quantitative"}, "y": {"field": "y", "type": "quantitative"}, "text": {"field": "s"}}},
     {"data": {"values": [{"t": "CD3"}]},
      "mark": {"type": "text", "fontSize": 13.5, "dx": 5},
      "encoding": {"y": {"datum": 78}, "text": {"field": "t"}}}
    ]}
  ]}
]
}
